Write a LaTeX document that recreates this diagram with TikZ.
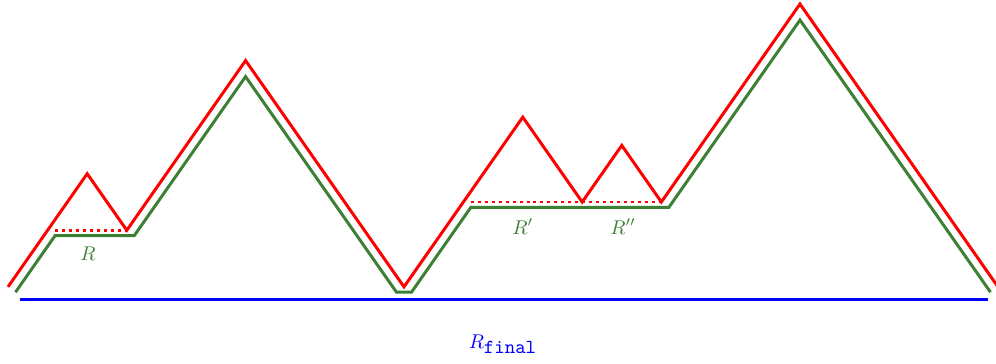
\documentclass[tikz,border=0pt]{standalone}
\usepackage{tikz}
\definecolor{verde}{RGB}{59,128,51}
\begin{document}
\begin{tikzpicture}[x=0.35cm, y=0.5cm,
        camino/.style={red, line width=1.5pt},
        bajado/.style={verde, line width=1.5pt},
        punteado/.style={red, dotted, line width=1.5pt},
        base/.style={blue, line width=1.5pt},
        etiqueta/.style={text=verde}
    ]
        \useasboundingbox (-0.404,-2.695) rectangle (49.9,10.142);

        % --- Camino original (rojo) ---
        \draw[camino] (0,0) -- (4,4) -- (6,2) -- (12,8) -- (20,0) -- (26,6)
            -- (29,3) -- (31,5) -- (33,3) -- (40,10) -- (50,0);

        % --- Camino con las zonas R aplanadas (verde) ---
        \draw[bajado] (0.377,-0.19) -- (2.377,1.81) -- (6.377,1.81) -- (12,7.433)
            -- (19.623,-0.19) -- (20.377,-0.19) -- (23.377,2.81) -- (33.377,2.81)
            -- (40,9.433) -- (49.623,-0.19);

        % --- Niveles de las zonas R ---
        \draw[punteado] (2.377,2) -- (6,2);
        \draw[punteado] (23.377,3) -- (33,3);

        % --- Linea base ---
        \draw[base] (0.606,-0.46) -- (49.49,-0.46);

        % --- Etiquetas ---
        \node[etiqueta] (r1) at (4.04,1.17) {$R$};
        \node[etiqueta] (r2) at (26,2.13) {$R'$};
        \node[etiqueta] (r3) at (31.06,2.13) {$R''$};
        \node[text=blue] (rfinal) at (25,-2.02) {$R_{\texttt{final}}$};
\end{tikzpicture}
\end{document}
